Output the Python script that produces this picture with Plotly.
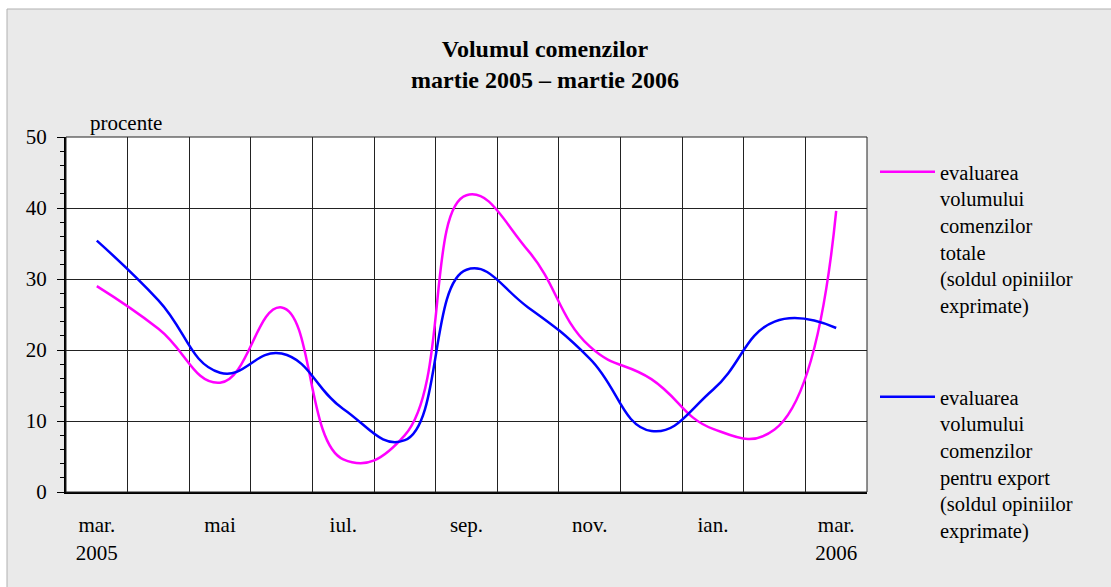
import plotly.graph_objects as go

# ---- data ----
months = ["mar.", "apr.", "mai", "iun.", "iul.", "aug.", "sep.", "oct.",
          "nov.", "dec.", "ian.", "feb.", "mar."]
total_orders = [29.0, 23.0, 15.4, 26.0, 4.6, 8.0, 41.8, 34.0, 20.5, 15.9, 8.9, 8.8, 39.6]
export_orders = [35.4, 27.0, 16.8, 19.5, 11.7, 7.3, 31.3, 26.0, 18.8, 8.6, 14.4, 24.0, 23.1]
tick_idx = [0, 2, 4, 6, 8, 10, 12]
tick_text = ["mar.<br>2005", "mai", "iul.", "sep.", "nov.", "ian.", "mar.<br>2006"]
name_total = "evaluarea<br>volumului<br>comenzilor<br>totale<br>(soldul opiniilor<br>exprimate)"
name_export = "evaluarea<br>volumului<br>comenzilor<br>pentru export<br>(soldul opiniilor<br>exprimate)"

W, H = 1111, 587
L, R, T, B = 66, 867, 137, 492
FONT = "Liberation Serif, Times New Roman, serif"

x = list(range(len(months)))

fig = go.Figure()
fig.add_trace(go.Scatter(x=x, y=total_orders, mode="lines", name=name_total,
                         line=dict(color="#FF00FF", width=2.5, shape="spline", smoothing=1.3),
                         legendgroup="a"))
fig.add_trace(go.Scatter(x=x, y=export_orders, mode="lines", name=name_export,
                         line=dict(color="#0000FF", width=2.5, shape="spline", smoothing=1.3),
                         legendgroup="b"))

def px_x(p):
    return (p - L) / (R - L)

def px_y(p):
    return (B - p) / (B - T)

shapes = [
    # white strips outside the dotted frame
    dict(type="rect", xref="paper", yref="paper", x0=px_x(-5), x1=px_x(7), y0=px_y(600), y1=px_y(-5),
         fillcolor="white", line=dict(width=0), layer="below"),
    dict(type="rect", xref="paper", yref="paper", x0=px_x(-5), x1=px_x(1120), y0=px_y(9), y1=px_y(-5),
         fillcolor="white", line=dict(width=0), layer="below"),
    dict(type="line", xref="paper", yref="paper", x0=px_x(7), x1=px_x(1120), y0=px_y(9), y1=px_y(9),
         line=dict(color="#b0b0b0", width=1), layer="below"),
    dict(type="line", xref="paper", yref="paper", x0=px_x(7), x1=px_x(7), y0=px_y(9), y1=px_y(600),
         line=dict(color="#b0b0b0", width=1), layer="below"),
    # thin top/right border of plot area
    dict(type="rect", xref="x domain", yref="y domain", x0=0, x1=1, y0=0, y1=1,
         line=dict(color="#222222", width=1)),
]

fig.update_layout(
    width=W, height=H,
    margin=dict(l=L, r=W - R, t=T, b=H - B, pad=0, autoexpand=False),
    paper_bgcolor="#eaeaea",
    plot_bgcolor="white",
    font=dict(family=FONT, size=21, color="black"),
    title=dict(text="<b>Volumul comenzilor<br>martie 2005 – martie 2006</b>",
               x=545 / W, xanchor="center", y=1 - 57 / H, yanchor="middle",
               font=dict(family=FONT, size=24, color="black")),
    showlegend=True,
    legend=dict(x=px_x(875), xanchor="left", y=px_y(152), yanchor="top",
                font=dict(family=FONT, size=20.5, color="black"),
                bgcolor="rgba(0,0,0,0)", valign="top", tracegroupgap=62,
                itemwidth=55, traceorder="grouped", maxheight=440),
    shapes=shapes,
    annotations=[dict(text="procente", xref="paper", yref="paper", x=px_x(88), y=px_y(123),
                      xanchor="left", yanchor="middle", showarrow=False,
                      font=dict(family=FONT, size=21, color="black"))],
)

fig.update_xaxes(
    range=[-0.5, len(months) - 0.5],
    tickmode="array", tickvals=tick_idx, ticktext=tick_text,
    showgrid=False, ticks="", ticklabelstandoff=13,
    showline=True, linecolor="black", linewidth=2,
    minor=dict(tick0=0.5, dtick=1, showgrid=True, gridcolor="#222222", gridwidth=1, ticks=""),
    zeroline=False, fixedrange=True,
    tickfont=dict(family=FONT, size=21, color="black"),
)
fig.update_yaxes(
    range=[0, 50], dtick=10, tick0=0,
    showgrid=True, gridcolor="#222222", gridwidth=1,
    ticks="outside", ticklen=7, tickcolor="black", tickwidth=1,
    minor=dict(dtick=2, ticks="outside", ticklen=4, tickcolor="black", showgrid=False),
    showline=True, linecolor="black", linewidth=2,
    zeroline=False, ticklabelstandoff=6, fixedrange=True,
    tickfont=dict(family=FONT, size=21, color="black"),
)

fig.write_html("out.html", config={"displayModeBar": False},
               post_script="document.body.style.margin='0';")
